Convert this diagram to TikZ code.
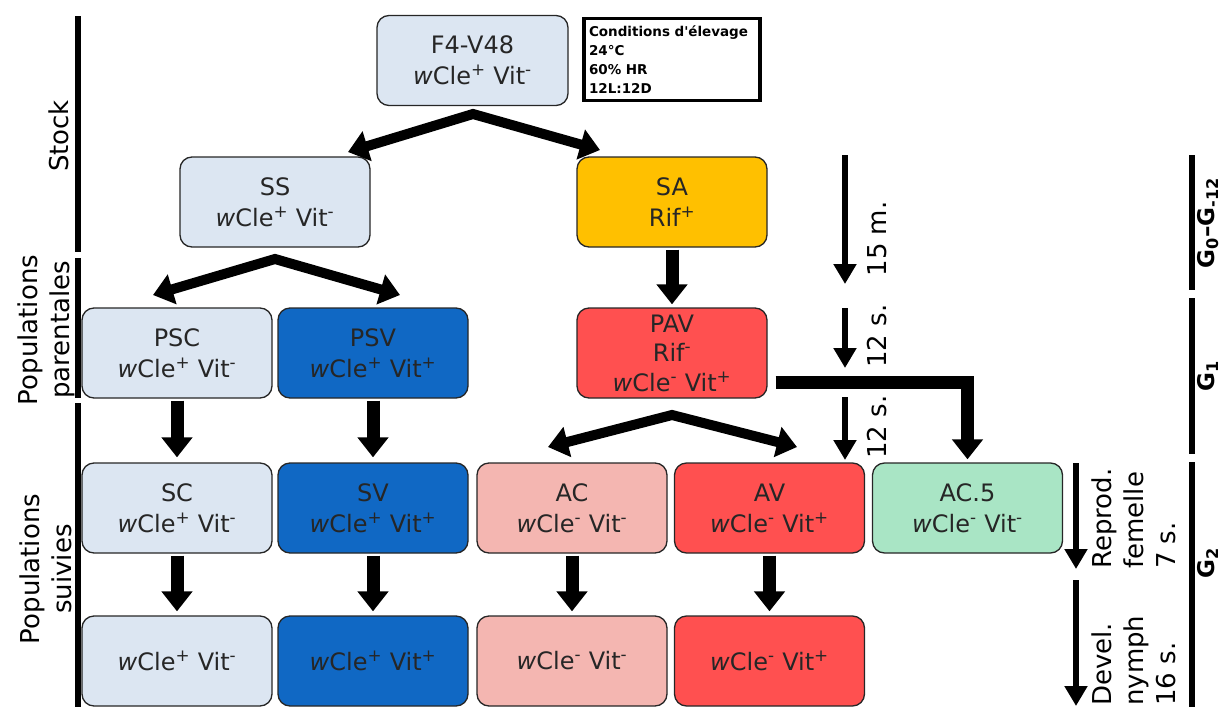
\documentclass[tikz,border=0pt]{standalone}
\usepackage{fontspec}
\setmainfont{DejaVu Sans}
\usetikzlibrary{arrows.meta}
\definecolor{lblue}{HTML}{DCE6F2}
\definecolor{dblue}{HTML}{1068C4}
\definecolor{orangeA}{HTML}{FFC000}
\definecolor{redA}{HTML}{FF5050}
\definecolor{pinkA}{HTML}{F4B6B1}
\definecolor{greenA}{HTML}{A9E5C5}
\newcommand\sP{\textsuperscript{+}}
\newcommand\sM{\textsuperscript{-}}
\newcommand\wc{\textit{w}Cle}
\begin{document}
\begin{tikzpicture}[x=1pt,y=-1pt,
  box/.style={draw=black!85, line width=1.3pt, rounded corners=12pt, minimum width=190pt, minimum height=90pt, inner sep=0pt, align=center, font=\fontsize{24}{31}\selectfont, text=black!85},
  fork/.style={line width=10pt, line join=miter, miter limit=20, arrows={Triangle[width=30pt,length=20pt]-Triangle[width=30pt,length=20pt]}},
  vthick/.style={line width=13pt, line join=miter, arrows={-Triangle[width=30pt,length=20pt]}},
  tl/.style={line width=6pt, arrows={-Triangle[width=22pt,length=20pt]}},
  bar/.style={line width=6pt},
  rot/.style={rotate=90, inner sep=0pt, font=\fontsize{26}{32}\selectfont},
  glab/.style={rotate=90, inner sep=0pt, font=\fontsize{23}{28}\selectfont\bfseries}]
\useasboundingbox (0,0) rectangle (1224,707);
% boxes
\node[box, fill=lblue, minimum width=191pt] (F4) at (472.5,60.5) {F4-V48\\\wc\sP{} Vit\sM};
\node[draw, line width=3.5pt, inner xsep=5pt, inner ysep=2pt, text width=166pt, minimum height=82pt, align=left, font=\fontsize{13.5}{19}\selectfont\bfseries] (cond) at (672,59.5) {Conditions d\textquotesingle élevage\\24°C\\60\% HR\\12L:12D};
\node[box, fill=lblue] (SS) at (275,202) {SS\\\wc\sP{} Vit\sM};
\node[box, fill=orangeA] (SA) at (672,202) {SA\\Rif\sP};
\node[box, fill=lblue] (PSC) at (177,353) {PSC\\\wc\sP{} Vit\sM};
\node[box, fill=dblue] (PSV) at (373,353) {PSV\\\wc\sP{} Vit\sP};
\node[box, fill=redA, font=\fontsize{24}{29.5}\selectfont] (PAV) at (672,353) {PAV\\Rif\sM\\\wc\sM{} Vit\sP};
\node[box, fill=lblue] (SC) at (177,508) {SC\\\wc\sP{} Vit\sM};
\node[box, fill=dblue] (SV) at (373,508) {SV\\\wc\sP{} Vit\sP};
\node[box, fill=pinkA] (AC) at (572,508) {AC\\\wc\sM{} Vit\sM};
\node[box, fill=redA] (AV) at (769.5,508) {AV\\\wc\sM{} Vit\sP};
\node[box, fill=greenA] (AC5) at (967.5,508) {AC.5\\\wc\sM{} Vit\sM};
\node[box, fill=lblue] (B1) at (177,661) {\wc\sP{} Vit\sM};
\node[box, fill=dblue] (B2) at (373,661) {\wc\sP{} Vit\sP};
\node[box, fill=pinkA] (B3) at (572,661) {\wc\sM{} Vit\sM};
\node[box, fill=redA] (B4) at (769.5,661) {\wc\sM{} Vit\sP};
% forks
\coordinate (f1) at (473,114);
\coordinate (f1l) at (348,152);
\coordinate (f1r) at (600,150);
\draw[fork] (f1l) -- (f1) -- (f1r);
\coordinate (f2) at (275,259);
\coordinate (f2l) at (153,295);
\coordinate (f2r) at (400,295);
\draw[fork] (f2l) -- (f2) -- (f2r);
\coordinate (f3) at (672,415);
\coordinate (f3l) at (548,447);
\coordinate (f3r) at (797,447);
\draw[fork] (f3l) -- (f3) -- (f3r);
% vertical arrows
\draw[vthick, shorten <=2pt, shorten >=3pt] (SA) -- (PAV);
\draw[vthick, shorten <=2pt, shorten >=5pt] (PSC) -- (SC);
\draw[vthick, shorten <=2pt, shorten >=5pt] (PSV) -- (SV);
\draw[vthick, shorten <=2pt, shorten >=4pt] (SC) -- (B1);
\draw[vthick, shorten <=2pt, shorten >=4pt] (SV) -- (B2);
\draw[vthick, shorten <=2pt, shorten >=4pt] (AC) -- (B3);
\draw[vthick, shorten <=2pt, shorten >=4pt] (AV) -- (B4);
\draw[vthick, shorten >=3pt] ([xshift=8pt,yshift=-29pt]PAV.east) -| (AC5.north);
% timeline arrows
\coordinate (t1a) at (845,155); \coordinate (t1b) at (845,284);
\coordinate (t2a) at (845,308); \coordinate (t2b) at (845,368);
\coordinate (t3a) at (845,397); \coordinate (t3b) at (845,460);
\draw[tl] (t1a) -- (t1b);
\draw[tl] (t2a) -- (t2b);
\draw[tl] (t3a) -- (t3b);
\coordinate (r1a) at (1076,463); \coordinate (r1b) at (1076,569);
\coordinate (r2a) at (1076,580); \coordinate (r2b) at (1076,706);
\draw[tl] (r1a) -- (r1b);
\draw[tl] (r2a) -- (r2b);
\node[rot] (l15) at (877,239) {15 m.};
\node[rot] (l12a) at (877,336) {12 s.};
\node[rot] (l12b) at (877,427) {12 s.};
\node[rot, anchor=west, align=left] (lrep) at (1134,569) {Reprod.\\femelle\\7 s.};
\node[rot, anchor=west, align=left] (ldev) at (1134,706) {Devel.\\nymph\\16 s.};
% left bars
\draw[bar] (78,16) -- (78,252);
\draw[bar] (78,258) -- (78,398);
\draw[bar] (78,403) -- (78,707);
\node[rot] (lstock) at (59,136) {Stock};
\node[rot, align=center] (lpar) at (46,330) {Populations\\parentales};
\node[rot, align=center] (lsui) at (46,569) {Populations\\suivies};
% right bars
\draw[bar] (1192,155) -- (1192,290);
\draw[bar] (1192,298) -- (1192,454);
\draw[bar] (1192,462) -- (1192,707);
\node[glab] (g0) at (1208,223) {G\textsubscript{0}–G\textsubscript{-12}};
\node[glab] (g1) at (1208,376) {G\textsubscript{1}};
\node[glab] (g2) at (1208,563) {G\textsubscript{2}};
\end{tikzpicture}
\end{document}
